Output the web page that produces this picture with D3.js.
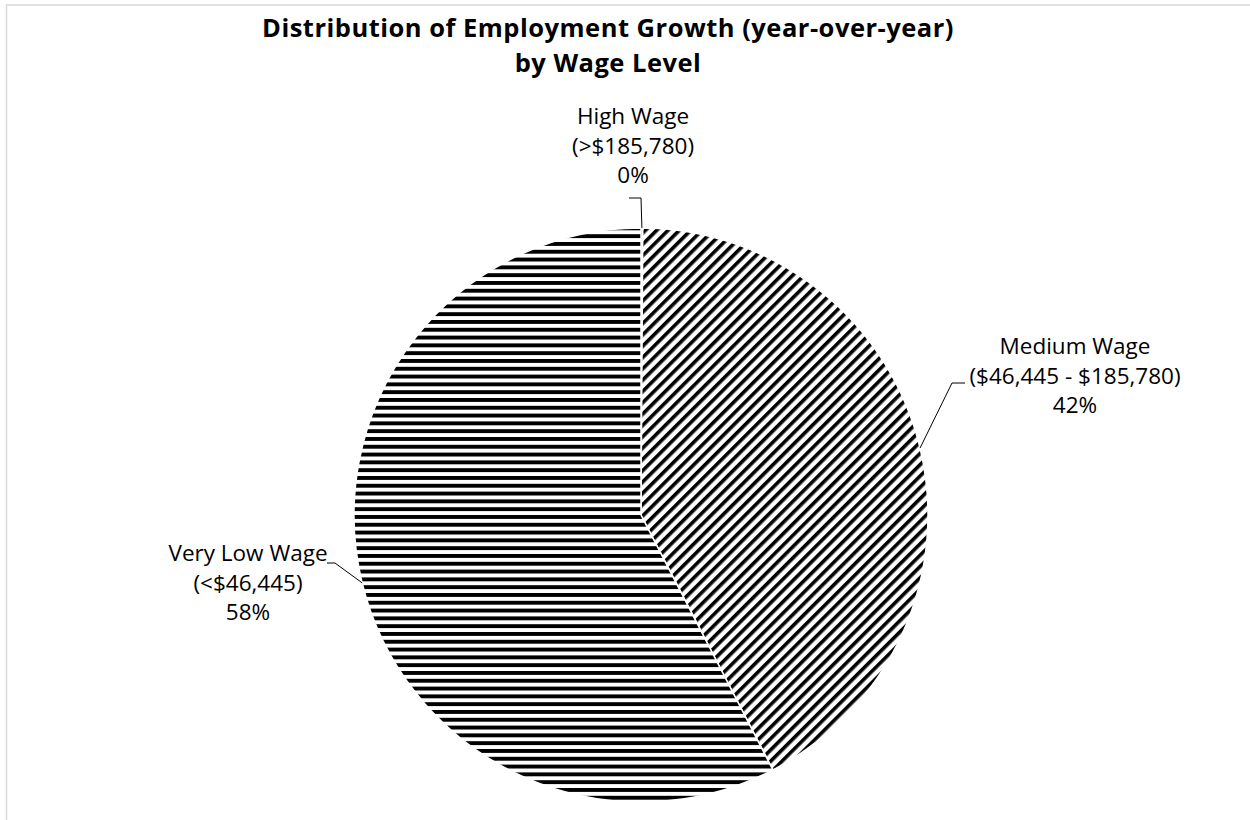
<!DOCTYPE html>
<html>
<head>
<meta charset="utf-8">
<script src="https://cdn.jsdelivr.net/npm/d3@7"></script>
<style>
  body { margin: 0; background: #fff; }
  svg { display: block; }
  text { font-family: "Open Sans", Lato, sans-serif; fill: #000; }
</style>
</head>
<body>
<svg id="chart" width="1250" height="820"></svg>
<script>
// data
const categories = ["High Wage", "Medium Wage", "Very Low Wage"];
const wageRanges = ["(>$185,780)", "($46,445 - $185,780)", "(<$46,445)"];
const shares = [0.1, 42.3, 57.6];
const titleLines = ["Distribution of Employment Growth (year-over-year)", "by Wage Level"];

const svg = d3.select("#chart");
const width = +svg.attr("width");
const height = +svg.attr("height");

// chart area border (cropped on right and bottom)
svg.append("rect")
    .attr("x", 6.5).attr("y", 5)
    .attr("width", width + 20).attr("height", height + 20)
    .attr("fill", "none")
    .attr("stroke", "#d9d9d9")
    .attr("stroke-width", 1.5);

// fill patterns
const defs = svg.append("defs");
defs.append("pattern")
    .attr("id", "hstripe")
    .attr("patternUnits", "userSpaceOnUse")
    .attr("width", 8).attr("height", 7.8)
    .append("rect")
    .attr("x", 0).attr("y", 0).attr("width", 8).attr("height", 3.9)
    .attr("fill", "#000");

defs.append("pattern")
    .attr("id", "dstripe")
    .attr("patternUnits", "userSpaceOnUse")
    .attr("width", 8).attr("height", 8)
    .attr("patternTransform", "rotate(-45)")
    .append("rect")
    .attr("x", 0).attr("y", 0).attr("width", 8).attr("height", 3.6)
    .attr("fill", "#000");

const fills = ["#000", "url(#dstripe)", "url(#hstripe)"];

// title
svg.append("text")
    .attr("x", 608).attr("y", 37)
    .attr("text-anchor", "middle")
    .style("font-size", "25.5px")
    .style("font-weight", "bold")
    .style("letter-spacing", "0.5px")
    .selectAll("tspan")
    .data(titleLines)
    .join("tspan")
    .attr("x", 608)
    .attr("dy", (d, i) => i === 0 ? 0 : 35)
    .text(d => d);

// pie
const cx = 641, cy = 515, radius = 287;
const rows = categories.map((c, i) => ({ name: c, range: wageRanges[i], value: shares[i], fill: fills[i] }));
const total = d3.sum(shares);

const pie = d3.pie().sort(null).value(d => d.value);
const arc = d3.arc().innerRadius(0).outerRadius(radius);
const arcs = pie(rows);

const g = svg.append("g").attr("transform", "translate(" + cx + "," + cy + ")");

g.selectAll("path.slice")
    .data(arcs)
    .join("path")
    .attr("class", "slice")
    .attr("d", arc)
    .attr("fill", d => d.data.fill)
    .attr("stroke", "#fff")
    .attr("stroke-width", 1.5);

// data labels: text block centre, elbow point and line end (relative to pie centre)
const labelLayout = [
    { tx: -8, ty: -391, elbow: [0, -317], end: [-12, -317] },
    { tx: 434, ty: -161, elbow: [311, -132], end: [324, -132] },
    { tx: -393, ty: 46, elbow: [-306, 48], end: [-314, 48] }
];
const pct = d3.format(".0%");

arcs.forEach((a, i) => {
    const L = labelLayout[i];
    const mid = (a.startAngle + a.endAngle) / 2;
    const sx = Math.sin(mid) * radius, sy = -Math.cos(mid) * radius;

    g.append("path")
        .attr("d", d3.line()([[sx, sy], L.elbow, L.end]))
        .attr("fill", "none")
        .attr("stroke", "#000")
        .attr("stroke-width", 1);

    const lines = [a.data.name, a.data.range, pct(a.data.value / total)];
    g.append("text")
        .attr("text-anchor", "middle")
        .style("font-size", "22.5px")
        .selectAll("tspan")
        .data(lines)
        .join("tspan")
        .attr("x", L.tx)
        .attr("y", (d, j) => L.ty + j * 29.5)
        .text(d => d);
});
</script>
</body>
</html>
